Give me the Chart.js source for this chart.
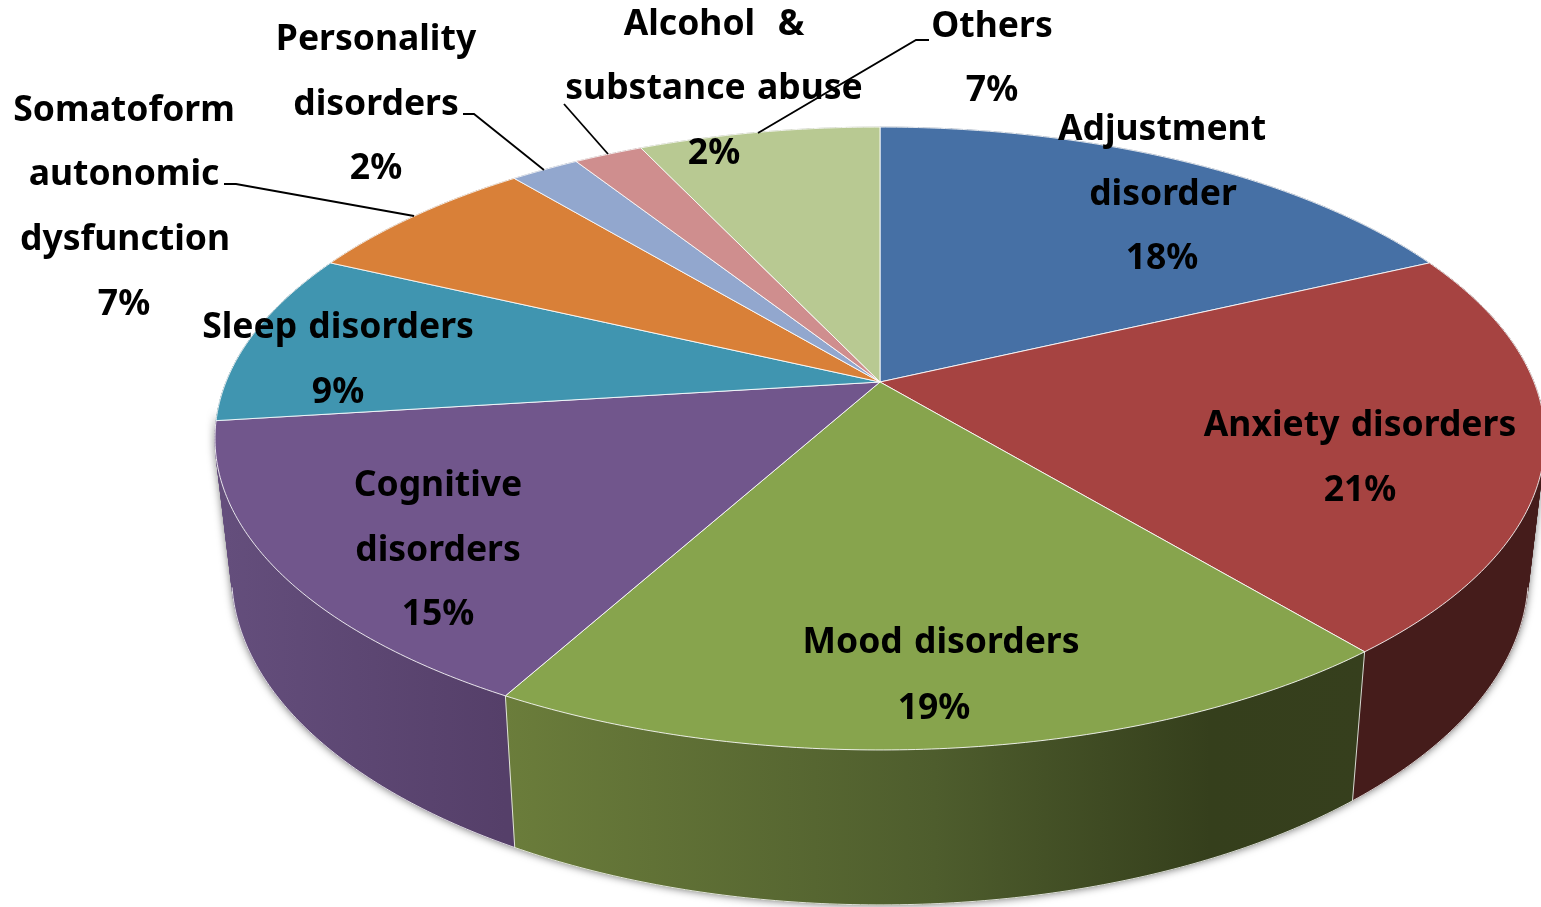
<!DOCTYPE html>
<html>
<head>
<meta charset="utf-8">
<title>Psychiatric diagnoses</title>
<script src="https://cdn.jsdelivr.net/npm/chart.js@4/dist/chart.umd.min.js"></script>
<style>
  html, body { margin: 0; padding: 0; background: #fff; overflow: hidden; }
  canvas { display: block; }
</style>
</head>
<body>
<canvas id="pie" width="1541" height="907"></canvas>
<script>
'use strict';

// --- Data ---
const categories = ['Adjustment disorder', 'Anxiety disorders', 'Mood disorders', 'Cognitive disorders', 'Sleep disorders', 'Somatoform autonomic dysfunction', 'Personality disorders', 'Alcohol & substance abuse', 'Others'];
const shares = [18, 21, 19, 15, 9, 7, 2, 2, 7];

// --- Look ---
const sliceColors = ['#4670a5', '#a64341', '#87a44d', '#71568c', '#4095b0', '#d98038', '#92a7ce', '#cf8e8e', '#b8c992'];
const wallStops = [
  [[0, '#2a4264'], [1, '#2a4264']],
  [[0, '#451c1b'], [1, '#451c1b']],
  [[0, '#6b7d3b'], [0.5, '#4e5d2d'], [0.82, '#353f1c'], [1, '#363f1d']],
  [[0, '#644e7c'], [1, '#553f69']],
  [[0, '#2a5f70'], [1, '#2a5f70']],
  [[0, '#8a5224'], [1, '#8a5224']],
  [[0, '#5e6b84'], [1, '#5e6b84']],
  [[0, '#855b5b'], [1, '#855b5b']],
  [[0, '#76815e'], [1, '#76815e']]
];
const wallRange = [[880, 1430], [1350, 1541], [505, 1365], [225, 505], [215, 330], [330, 513], [513, 578], [578, 640], [640, 880]];

// label lines: text pieces and their centres
const labelLines = [
  ['Adjustment', 'disorder'], ['Anxiety disorders'], ['Mood disorders'], ['Cognitive', 'disorders'], ['Sleep disorders'],
  ['Somatoform', 'autonomic', 'dysfunction'], ['Personality', 'disorders'], ['Alcohol  &', 'substance abuse'], ['Others']
];
const labelSpots = [
  [[1162, 130], [1163, 195], [1162, 259]],
  [[1360, 426], [1360, 491]],
  [[941, 643], [934, 709]],
  [[438, 486], [438, 551], [438, 615]],
  [[338, 328], [338, 393]],
  [[124, 111], [124, 175], [125, 240], [124, 305]],
  [[376, 40], [376, 105], [376, 169]],
  [[714, 25], [714, 89], [714, 154]],
  [[992, 27], [992, 91]]
];
const leaders = [
  [[224, 184], [236, 184], [414, 216]],
  [[463, 114], [474, 114], [544, 170]],
  [[564, 104], [608, 154]],
  [[929, 40], [916, 40], [758, 133]]
];

// --- Perspective of the pie disc ---
const apexX = 880, apexY = 382, radiusX = 654, radiusY = 301.2, tilt = 0.1814;
const lowerScale = 0.975, lowerDepth = 149, lowerGrow = 0.06, lowerRef = 651;

function rimPoint(angle, lower) {
  const cos = Math.cos(angle), sin = Math.sin(angle);
  const w = 1 - tilt * sin;
  const x = apexX + radiusX * cos / w;
  const y = apexY + radiusY * sin / w;
  if (!lower) return [x, y];
  return [apexX + lowerScale * (x - apexX), y + lowerDepth + lowerGrow * (y - lowerRef)];
}

function traceRim(ctx, from, to, lower, first) {
  const steps = Math.max(2, Math.ceil(Math.abs(to - from) / 0.01));
  for (let i = 0; i <= steps; i++) {
    const p = rimPoint(from + (to - from) * i / steps, lower);
    if (i === 0 && first) ctx.moveTo(p[0], p[1]);
    else ctx.lineTo(p[0], p[1]);
  }
}

function wallQuad(ctx, a, b) {
  const p1 = rimPoint(a, false), p2 = rimPoint(b, false), p3 = rimPoint(b, true), p4 = rimPoint(a, true);
  const area = (p2[0] - p1[0]) * (p3[1] - p1[1]) - (p3[0] - p1[0]) * (p2[1] - p1[1]);
  const pts = area >= 0 ? [p1, p2, p3, p4] : [p4, p3, p2, p1];
  ctx.moveTo(pts[0][0], pts[0][1]);
  for (let i = 1; i < 4; i++) ctx.lineTo(pts[i][0], pts[i][1]);
  ctx.closePath();
}

function wallPath(ctx, from, to) {
  const steps = Math.max(2, Math.ceil((to - from) / 0.01));
  ctx.beginPath();
  for (let i = 0; i < steps; i++) {
    wallQuad(ctx, from + (to - from) * i / steps, from + (to - from) * (i + 1) / steps);
  }
}

// --- Plugin: paints the arcs Chart.js laid out as a tilted 3D disc ---
const discPlugin = {
  id: 'disc',
  beforeDatasetsDraw(chart) {
    const ctx = chart.ctx;
    const arcs = chart.getDatasetMeta(0).data;

    // soft shadow under the front of the body
    ctx.save();
    ctx.shadowColor = 'rgba(0,0,0,0.6)';
    ctx.shadowBlur = 9;
    ctx.fillStyle = '#555';
    wallPath(ctx, 0.1, Math.PI - 0.1);
    ctx.fill();
    ctx.restore();

    // side walls, back ones first
    const order = arcs.map((arc, i) => i).sort((a, b) =>
      Math.sin((arcs[a].startAngle + arcs[a].endAngle) / 2) - Math.sin((arcs[b].startAngle + arcs[b].endAngle) / 2));
    order.forEach(i => {
      const arc = arcs[i];
      const grad = ctx.createLinearGradient(wallRange[i][0], 0, wallRange[i][1], 0);
      wallStops[i].forEach(s => grad.addColorStop(s[0], s[1]));
      ctx.fillStyle = grad;
      ctx.strokeStyle = grad;
      ctx.lineWidth = 0.6;
      wallPath(ctx, arc.startAngle, arc.endAngle);
      ctx.fill();
      ctx.stroke();
    });

    // light edges of the walls
    ctx.strokeStyle = 'rgba(255,255,255,0.8)';
    ctx.lineWidth = 1;
    arcs.forEach(arc => {
      if (Math.sin(arc.endAngle) < 0.3) return;
      const p = rimPoint(arc.endAngle, false), q = rimPoint(arc.endAngle, true);
      ctx.beginPath();
      ctx.moveTo(p[0], p[1]);
      ctx.lineTo(q[0], q[1]);
      ctx.stroke();
    });
    ctx.beginPath();
    traceRim(ctx, 0.22, Math.PI - 0.22, true, true);
    ctx.stroke();

    // top face
    arcs.forEach((arc, i) => {
      ctx.beginPath();
      ctx.moveTo(apexX, apexY);
      traceRim(ctx, arc.startAngle, arc.endAngle, false, false);
      ctx.closePath();
      ctx.fillStyle = sliceColors[i];
      ctx.fill();
      ctx.strokeStyle = 'rgba(255,255,255,0.85)';
      ctx.lineWidth = 1;
      ctx.stroke();
    });
    return false;
  },
  // afterDatasetsDraw is skipped once the draw above is cancelled
  afterDraw(chart) {
    const ctx = chart.ctx;
    ctx.save();
    ctx.strokeStyle = '#000';
    ctx.lineWidth = 1.8;
    leaders.forEach(line => {
      ctx.beginPath();
      line.forEach((p, i) => (i ? ctx.lineTo(p[0], p[1]) : ctx.moveTo(p[0], p[1])));
      ctx.stroke();
    });
    ctx.fillStyle = '#000';
    ctx.font = 'bold 35.5px "Noto Sans"';
    ctx.wordSpacing = '2px';
    ctx.textAlign = 'center';
    ctx.textBaseline = 'middle';
    shares.forEach((v, i) => {
      const lines = labelLines[i].concat(v + '%');
      lines.forEach((t, j) => ctx.fillText(t, labelSpots[i][j][0], labelSpots[i][j][1]));
    });
    ctx.restore();
  }
};

new Chart(document.getElementById('pie').getContext('2d'), {
  type: 'pie',
  data: {
    labels: categories,
    datasets: [{ data: shares, backgroundColor: sliceColors, borderColor: '#fff', borderWidth: 1 }]
  },
  options: {
    responsive: false,
    animation: false,
    rotation: 0,
    plugins: { legend: { display: false }, tooltip: { enabled: false } }
  },
  plugins: [discPlugin]
});
</script>
</body>
</html>
